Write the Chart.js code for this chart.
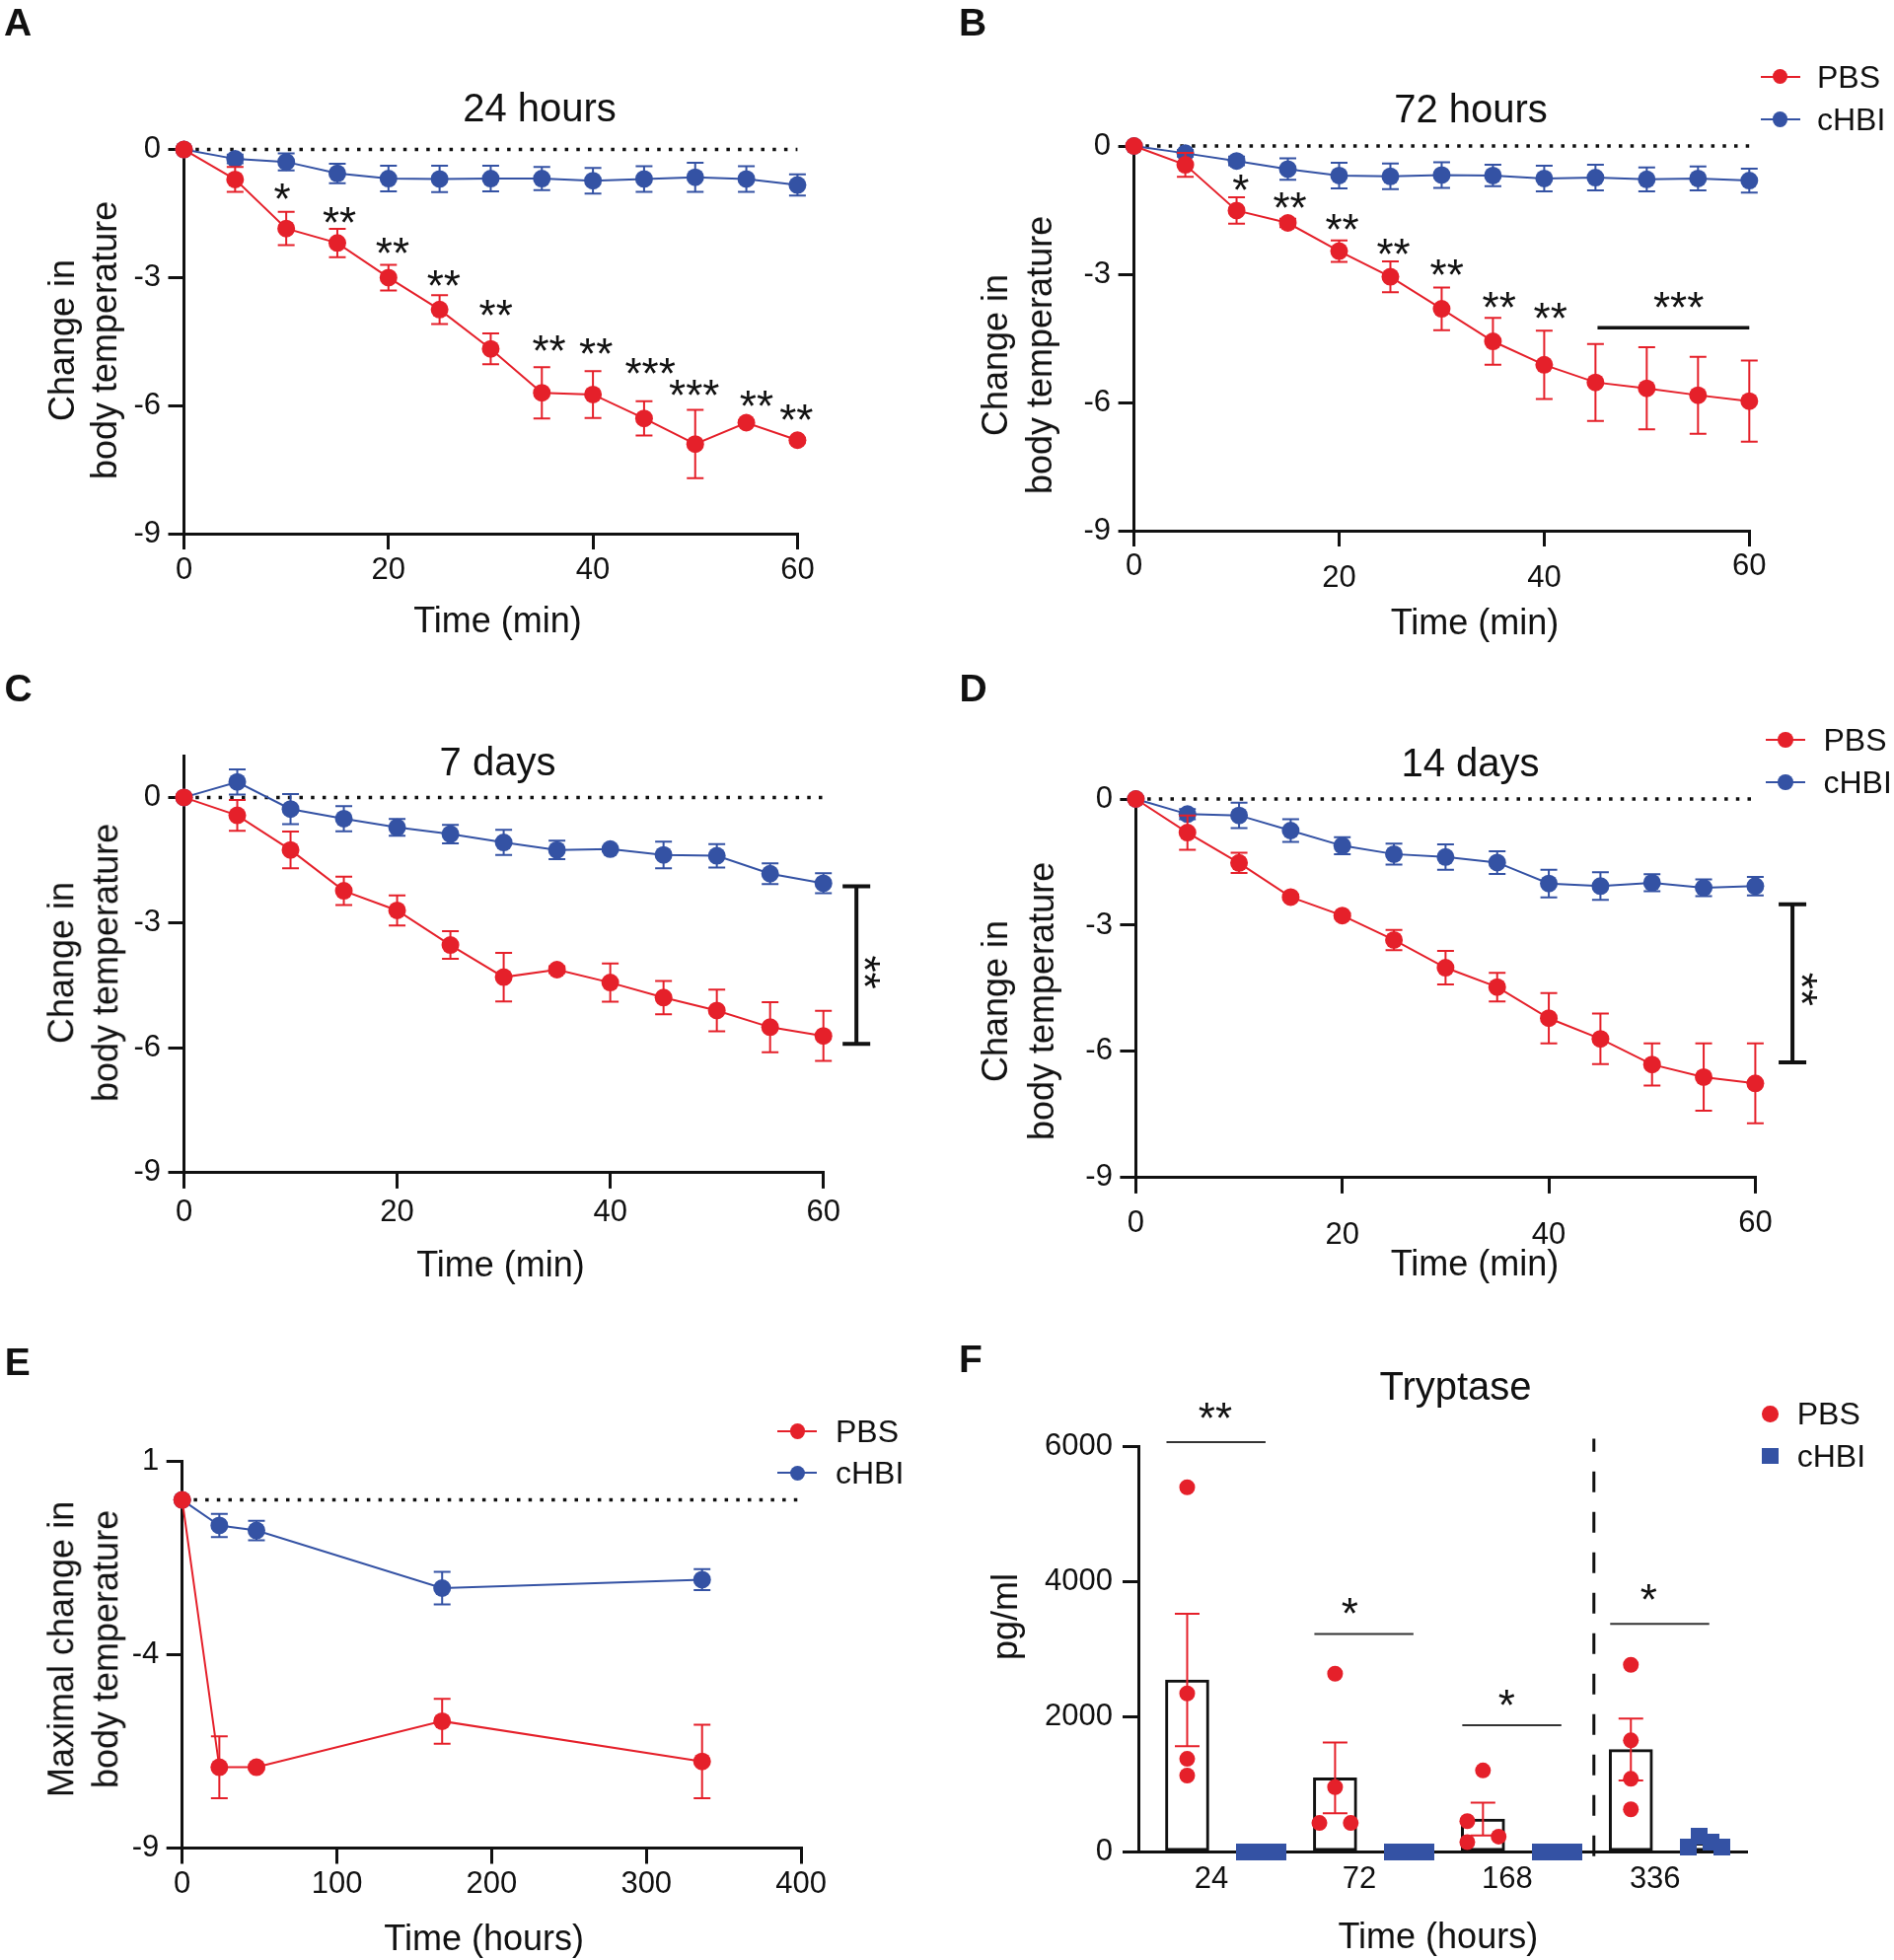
<!DOCTYPE html>
<html>
<head>
<meta charset="utf-8">
<script src="https://cdn.jsdelivr.net/npm/chart.js@4.4.1/dist/chart.umd.min.js"></script>
<style>
html,body{margin:0;padding:0;background:#fff}
#page{position:relative;width:1920px;height:1987px;overflow:hidden;font-family:'Liberation Sans',Arial,Helvetica,sans-serif;color:#111;background:#fff}
canvas{position:absolute}
.t{position:absolute;white-space:pre;line-height:1;text-align:center}
.mk{position:absolute}
</style>
</head>
<body>
<div id="page">
<canvas id="cA" width="960" height="660" style="left:0;top:0"></canvas>
<canvas id="cB" width="960" height="660" style="left:960px;top:0"></canvas>
<canvas id="cC" width="960" height="660" style="left:0;top:660px"></canvas>
<canvas id="cD" width="960" height="660" style="left:960px;top:660px"></canvas>
<canvas id="cE" width="960" height="667" style="left:0;top:1320px"></canvas>
<canvas id="cF" width="960" height="667" style="left:960px;top:1320px"></canvas>
</div>
<script>
// ---------------- DATA ----------------
const minutes = [0, 5, 10, 15, 20, 25, 30, 35, 40, 45, 50, 55, 60];
const minuteTicks = [0, 20, 40, 60];
const tempTicks = [-9, -6, -3, 0];

// A: 24 hours
const aPBS     = [0, -0.70, -1.85, -2.19, -3.00, -3.75, -4.67, -5.70, -5.74, -6.30, -6.90, -6.40, -6.81];
const aPBSerr  = [0, 0.29, 0.39, 0.33, 0.30, 0.34, 0.36, 0.60, 0.55, 0.40, 0.80, 0.05, 0.05];
const aCHBI    = [0, -0.22, -0.29, -0.56, -0.68, -0.69, -0.68, -0.68, -0.73, -0.69, -0.65, -0.69, -0.83];
const aCHBIerr = [0, 0.10, 0.20, 0.23, 0.30, 0.31, 0.30, 0.27, 0.30, 0.30, 0.34, 0.30, 0.25];
const aStars = [['*', 9.6, -0.99], ['**', 15.2, -1.54], ['**', 20.4, -2.24], ['**', 25.4, -3.02], ['**', 30.5, -3.70],
  ['**', 35.7, -4.55], ['**', 40.3, -4.60], ['***', 45.6, -5.06], ['***', 49.9, -5.59], ['**', 56.0, -5.84], ['**', 59.9, -6.15]];

// B: 72 hours
const bPBS     = [0, -0.44, -1.51, -1.80, -2.46, -3.06, -3.81, -4.57, -5.12, -5.53, -5.67, -5.83, -5.97];
const bPBSerr  = [0, 0.28, 0.31, 0.10, 0.25, 0.36, 0.50, 0.55, 0.80, 0.90, 0.96, 0.90, 0.95];
const bCHBI    = [0, -0.17, -0.35, -0.54, -0.69, -0.71, -0.68, -0.69, -0.76, -0.74, -0.78, -0.76, -0.81];
const bCHBIerr = [0, 0.08, 0.10, 0.25, 0.30, 0.30, 0.30, 0.25, 0.30, 0.30, 0.28, 0.28, 0.28];
const bStars = [['*', 10.4, -0.85], ['**', 15.2, -1.26], ['**', 20.3, -1.77], ['**', 25.3, -2.35], ['**', 30.5, -2.84],
  ['**', 35.6, -3.59], ['**', 40.6, -3.86], ['***', 53.1, -3.59]];
const bSigLine = [45.2, 60, -4.25];

// C: 7 days
const cPBS     = [0, -0.43, -1.26, -2.24, -2.71, -3.54, -4.31, -4.13, -4.44, -4.80, -5.11, -5.51, -5.72];
const cPBSerr  = [0, 0.37, 0.44, 0.34, 0.36, 0.33, 0.58, 0.08, 0.46, 0.40, 0.50, 0.60, 0.60];
const cCHBI    = [0, 0.37, -0.28, -0.51, -0.72, -0.88, -1.08, -1.26, -1.24, -1.38, -1.40, -1.83, -2.06];
const cCHBIerr = [0, 0.30, 0.36, 0.30, 0.20, 0.22, 0.30, 0.22, 0.05, 0.32, 0.28, 0.25, 0.24];
const cBracket = [63.1, -2.13, -5.91, '**', 64.6, -4.19];

// D: 14 days
const dPBS     = [0, -0.80, -1.52, -2.33, -2.77, -3.35, -4.01, -4.47, -5.21, -5.70, -6.31, -6.61, -6.76];
const dPBSerr  = [0, 0.41, 0.24, 0.05, 0.05, 0.24, 0.40, 0.34, 0.60, 0.60, 0.50, 0.80, 0.95];
const dCHBI    = [0, -0.36, -0.39, -0.75, -1.11, -1.31, -1.38, -1.51, -2.01, -2.07, -1.99, -2.11, -2.07];
const dCHBIerr = [0, 0.12, 0.30, 0.27, 0.20, 0.25, 0.30, 0.27, 0.33, 0.33, 0.20, 0.20, 0.22];
const dBracket = [63.6, -2.50, -6.26, '**', 65.2, -4.52];

// E: maximal change
const eHours    = [0, 24, 48, 168, 336];
const ePBS      = [0, -6.91, -6.91, -5.72, -6.76];
const ePBSerr   = [0, 0.80, 0.05, 0.58, 0.95];
const eCHBI     = [0, -0.66, -0.79, -2.28, -2.06];
const eCHBIerr  = [0, 0.30, 0.25, 0.42, 0.27];
const eHourTicks = [0, 100, 200, 300, 400];
const eTempTicks = [-9, -4, 1];

// F: tryptase
const fHours      = ['24', '72', '168', '336'];
const fPBSpoints  = [[5401, 2350, 1382, 1134], [2642, 963, 433, 433], [1210, 459, 230, 149], [2773, 1655, 1086, 634]];
const fPBSjitter  = [[0, 0, 0, 0], [0, 0, -0.106, 0.106], [0, -0.106, 0.106, -0.106], [0, 0, 0, 0]];
const fPBSmean    = [2550, 1100, 490, 1520];
const fPBSsem     = [980, 523, 242, 457];
const fCHBIpoints = [[0, 0, 0, 0], [0, 0, 0, 0], [0, 0, 0, 0], [79, 239, 142, 79]];
const fCHBIjitter = [-0.113, -0.04, 0.04, 0.113];
const fCHBImean   = [0, 0, 0, 135];
const fSigY       = [6068, 3231, 1879, 3380];
const fSigStars   = ['**', '*', '*', '*'];
const fStarX      = [-0.06, -0.15, -0.09, -0.13];
const fStarY      = [6542, 3645, 2282, 3844];
const fTicks      = [0, 2000, 4000, 6000];

// ---------------- STYLE ----------------
const RED = '#E5202A', BLUE = '#3452A4', INK = '#111';
const FONT = "'Liberation Sans', Arial, Helvetica, sans-serif";
Chart.defaults.font.family = FONT;
Chart.defaults.color = INK;
const page = document.getElementById('page');

// square marker image for cHBI points in panel F
const squareImg = document.createElement('canvas');
squareImg.width = 17; squareImg.height = 17;
(function () { const c = squareImg.getContext('2d'); c.fillStyle = BLUE; c.fillRect(0, 0, 17, 17); })();

// ---------------- PLUGINS ----------------
function drawErr(chart, args) {
  const ds = chart.data.datasets[args.index];
  if (!ds.errors) return;
  const ys = chart.scales.y, ctx = chart.ctx, c = ds.capHalf || 8.5;
  ctx.save();
  ctx.strokeStyle = ds.errColor || ds.borderColor;
  ctx.lineWidth = ds.errWidth || 2;
  args.meta.data.forEach((el, i) => {
    const e = ds.errors[i];
    if (!e) return;
    const v = ds.data[i].y;
    const x = el.x, y1 = ys.getPixelForValue(v + e), y2 = ys.getPixelForValue(v - e);
    ctx.beginPath();
    ctx.moveTo(x, y1); ctx.lineTo(x, y2);
    ctx.moveTo(x - c, y1); ctx.lineTo(x + c, y1);
    ctx.moveTo(x - c, y2); ctx.lineTo(x + c, y2);
    ctx.stroke();
  });
  ctx.restore();
}
const errorBars = {
  id: 'errorBars',
  beforeDatasetDraw(chart, args) { if (!chart.data.datasets[args.index].errAfter) drawErr(chart, args); },
  afterDatasetDraw(chart, args) { if (chart.data.datasets[args.index].errAfter) drawErr(chart, args); }
};

function marksPlugin(spec) {
  return {
    id: 'marks',
    afterDatasetsDraw(chart) {
      const ctx = chart.ctx, xs = chart.scales.x, ys = chart.scales.y;
      const px = v => xs.getPixelForValue(v), py = v => ys.getPixelForValue(v);
      ctx.save();
      (spec.lines || []).forEach(l => {
        ctx.beginPath();
        ctx.lineWidth = l.w; ctx.strokeStyle = l.color || INK;
        ctx.setLineDash(l.dash || []);
        ctx.moveTo(px(l.x1), py(l.y1)); ctx.lineTo(px(l.x2), py(l.y2));
        ctx.stroke();
      });
      ctx.setLineDash([]);
      (spec.brackets || []).forEach(b => {
        const x = px(b.x), y1 = py(b.y1), y2 = py(b.y2);
        ctx.beginPath(); ctx.lineWidth = b.w; ctx.strokeStyle = INK;
        ctx.moveTo(x, y1); ctx.lineTo(x, y2);
        ctx.moveTo(x - b.cap, y1); ctx.lineTo(x + b.cap, y1);
        ctx.moveTo(x - b.cap, y2); ctx.lineTo(x + b.cap, y2);
        ctx.stroke();
      });
      (spec.stars || []).forEach(s => {
        const size = s.size || 44;
        ctx.save();
        ctx.font = size + 'px ' + FONT;
        ctx.fillStyle = INK;
        ctx.textAlign = 'center';
        ctx.textBaseline = 'alphabetic';
        const m = ctx.measureText(s.t);
        const off = (m.actualBoundingBoxAscent - m.actualBoundingBoxDescent) / 2;
        ctx.translate(px(s.x), py(s.y));
        if (s.rot) ctx.rotate(s.rot * Math.PI / 180);
        ctx.fillText(s.t, 0, off);
        ctx.restore();
      });
      ctx.restore();
    }
  };
}

// ---------------- SCALES ----------------
function axisCommon(tickLen) {
  return {
    grid: { display: tickLen > 0, drawOnChartArea: false, drawTicks: true, tickLength: tickLen, color: INK, lineWidth: 3, tickColor: INK, tickWidth: 3, offset: false },
    border: { display: true, color: INK, width: 3 }
  };
}
function xScale(o, H) {
  return Object.assign(axisCommon(o.xTickLen === undefined ? 16 : o.xTickLen), {
    type: 'linear', min: o.xMin, max: o.xMax, offset: false,
    afterFit: s => { s.height = H - o.area.b; },
    afterBuildTicks: s => { s.ticks = o.xTicks.map(v => ({ value: v })); },
    ticks: {
      font: { size: 31, lineHeight: o.xLH || 1.2 }, color: INK, padding: o.xPad, maxRotation: 0, minRotation: 0,
      autoSkip: false, labelOffset: o.xLabelOffset || 0,
      callback: o.xLabel || (v => (o.stagger && o.stagger.includes(v)) ? ['', String(v)] : String(v))
    }
  });
}
function yScale(o) {
  return Object.assign(axisCommon(16), {
    type: 'linear', min: o.yMin, max: o.yMax,
    afterFit: s => { s.width = o.area.l; },
    afterBuildTicks: s => { s.ticks = o.yTicks.map(v => ({ value: v })); },
    ticks: { font: { size: 31 }, color: INK, padding: o.yPad || 7.5, autoSkip: false, callback: v => String(v) }
  });
}
function baseOptions(o, W, H) {
  return {
    responsive: false, animation: false, events: [],
    layout: { padding: { left: 0, top: o.area.t, right: W - o.area.r, bottom: 0 } },
    plugins: { legend: { display: false }, tooltip: { enabled: false }, title: { display: false } },
    scales: { x: xScale(o, H), y: yScale(o) }
  };
}

function linePanel(id, o) {
  const cv = document.getElementById(id);
  const W = cv.width, H = cv.height;
  const series = (ys, errs, color, order) => ({
    data: o.x.map((x, i) => ({ x, y: ys[i] })),
    errors: errs, capHalf: 8.5,
    borderColor: color, backgroundColor: color, borderWidth: 2,
    pointRadius: 9, pointBackgroundColor: color, pointBorderColor: color, pointBorderWidth: 0,
    tension: 0, order, clip: false
  });
  new Chart(cv, {
    type: 'line',
    data: {
      datasets: [
        series(o.pbs, o.pbsErr, RED, 0),
        series(o.chbi, o.chbiErr, BLUE, 1),
        { data: o.zero.map(x => ({ x, y: 0 })), borderColor: INK, borderWidth: 3.5, borderDash: [3.5, 8.2],
          pointRadius: 0, order: 2, clip: false }
      ]
    },
    options: baseOptions(o, W, H),
    plugins: [errorBars, marksPlugin(o.marks || {})]
  });
}

const starSpec = arr => arr.map(s => ({ t: s[0], x: s[1], y: s[2] }));
const bracketSpec = b => ({ brackets: [{ x: b[0], y1: b[1], y2: b[2], cap: 14, w: 4 }], stars: [{ t: b[3], x: b[4], y: b[5], rot: 90 }] });

linePanel('cA', {
  area: { l: 186.5, r: 808.4, t: 151.6, b: 541 },
  x: minutes, pbs: aPBS, pbsErr: aPBSerr, chbi: aCHBI, chbiErr: aCHBIerr,
  xMin: 0, xMax: 60, xTicks: minuteTicks, yMin: -9, yMax: 0, yTicks: tempTicks,
  zero: [0, 60], xPad: 2.4,
  marks: { stars: starSpec(aStars) }
});
linePanel('cB', {
  area: { l: 189.6, r: 813.3, t: 148, b: 538 },
  x: minutes, pbs: bPBS, pbsErr: bPBSerr, chbi: bCHBI, chbiErr: bCHBIerr,
  xMin: 0, xMax: 60, xTicks: minuteTicks, yMin: -9, yMax: 0, yTicks: tempTicks,
  zero: [0, 60], xPad: 13.8, xLH: 0.4, stagger: [20, 40],
  marks: { stars: starSpec(bStars), lines: [{ x1: bSigLine[0], x2: bSigLine[1], y1: bSigLine[2], y2: bSigLine[2], w: 3.5 }] }
});
linePanel('cC', {
  area: { l: 186.5, r: 834.7, t: 106.1, b: 528.9 },
  x: minutes, pbs: cPBS, pbsErr: cPBSerr, chbi: cCHBI, chbiErr: cCHBIerr,
  xMin: 0, xMax: 60, xTicks: minuteTicks, yMin: -9, yMax: 1, yTicks: tempTicks,
  zero: [0, 60], xPad: 6.1,
  marks: bracketSpec(cBracket)
});
linePanel('cD', {
  area: { l: 191.4, r: 819.4, t: 150, b: 533.9 },
  x: minutes, pbs: dPBS, pbsErr: dPBSerr, chbi: dCHBI, chbiErr: dCHBIerr,
  xMin: 0, xMax: 60, xTicks: minuteTicks, yMin: -9, yMax: 0, yTicks: tempTicks,
  zero: [0, 60], xPad: 23.9, xLH: 0.4, stagger: [20, 40],
  marks: bracketSpec(dBracket)
});
linePanel('cE', {
  area: { l: 184.7, r: 812.1, t: 161.4, b: 553.5 },
  x: eHours, pbs: ePBS, pbsErr: ePBSerr, chbi: eCHBI, chbiErr: eCHBIerr,
  xMin: 0, xMax: 400, xTicks: eHourTicks, yMin: -9, yMax: 1, yTicks: eTempTicks,
  zero: [0, 400], xPad: 2.4
});

// ---------------- PANEL F ----------------
(function () {
  const cv = document.getElementById('cF');
  const W = cv.width, H = cv.height;
  const o = {
    area: { l: 194, r: 810.2, t: 146.7, b: 557.7 },
    xMin: -0.58, xMax: 3.53, xTicks: [0, 1, 2, 3], yMin: 0, yMax: 6000, yTicks: fTicks,
    xTickLen: 0, xPad: 9.1, xLabelOffset: -13, yPad: 10,
    xLabel: v => fHours[v]
  };
  const pbsPts = [], chbiPts = [];
  fPBSpoints.forEach((g, i) => g.forEach((v, j) => pbsPts.push({ x: i - 0.25 + fPBSjitter[i][j], y: v })));
  fCHBIpoints.forEach((g, i) => g.forEach((v, j) => chbiPts.push({ x: i + 0.25 + fCHBIjitter[j], y: v })));
  const lines = [], stars = [];
  fSigY.forEach((y, i) => {
    lines.push({ x1: i - 0.39, x2: i + 0.28, y1: y, y2: y, w: 2, color: '#333' });
    stars.push({ t: fSigStars[i], x: i + fStarX[i], y: fStarY[i] });
  });
  lines.push({ x1: 2.5, x2: 2.5, y1: -60, y2: 6120, w: 3, dash: [21, 20] });
  const opts = baseOptions(o, W, H);
  new Chart(cv, {
    type: 'bar',
    data: {
      datasets: [
        { type: 'scatter', data: pbsPts, pointRadius: 8, pointBackgroundColor: RED, pointBorderColor: RED,
          pointBorderWidth: 0, backgroundColor: RED, borderColor: RED, order: 0, clip: false },
        { type: 'scatter', data: chbiPts, pointStyle: squareImg, pointRadius: 9, pointBackgroundColor: BLUE,
          pointBorderColor: BLUE, pointBorderWidth: 0, backgroundColor: BLUE, borderColor: BLUE, order: 0, clip: false },
        { type: 'bar', data: fPBSmean.map((m, i) => ({ x: i - 0.25, y: m })), errors: fPBSsem, errAfter: true,
          errColor: RED, capHalf: 12.5, backgroundColor: '#fff', borderColor: INK, borderWidth: 3,
          borderSkipped: false, barThickness: 44, grouped: false, order: 1, clip: false },
        { type: 'bar', data: fCHBImean.map((m, i) => ({ x: i + 0.25, y: m })), backgroundColor: '#fff',
          borderColor: INK, borderWidth: 3, borderSkipped: false, barThickness: 44, grouped: false, order: 2, clip: false }
      ]
    },
    options: opts,
    plugins: [errorBars, marksPlugin({ lines, stars })]
  });
})();

// ---------------- HTML TEXT ----------------
function addText(str, cx, cy, size, o = {}) {
  const d = document.createElement('div');
  d.className = 't';
  d.textContent = str;
  d.style.left = cx + 'px';
  d.style.top = cy + 'px';
  d.style.fontSize = size + 'px';
  if (o.bold) d.style.fontWeight = 'bold';
  if (o.lh) d.style.lineHeight = o.lh + 'px';
  let tr = o.left ? 'translate(0,-50%)' : 'translate(-50%,-50%)';
  if (o.rot) tr += ' rotate(' + o.rot + 'deg)';
  d.style.transform = tr;
  page.appendChild(d);
}
[['A', 18, 22], ['B', 986, 21.5], ['C', 18.5, 696.5], ['D', 986.5, 696.5], ['E', 17.8, 1379.5], ['F', 984, 1377]]
  .forEach(l => addText(l[0], l[1], l[2], 39, { bold: true }));
[['24 hours', 547, 109], ['72 hours', 1491, 110], ['7 days', 504.5, 772], ['14 days', 1490.5, 772.5], ['Tryptase', 1475.5, 1405]]
  .forEach(l => addText(l[0], l[1], l[2], 40));
[['Time (min)', 504.5, 628.5], ['Time (min)', 1495, 630.5], ['Time (min)', 507.5, 1282], ['Time (min)', 1495, 1281],
 ['Time (hours)', 490.7, 1964.5], ['Time (hours)', 1457.8, 1962.5]]
  .forEach(l => addText(l[0], l[1], l[2], 36));
[['Change in\nbody temperature', 83.5, 345, 43], ['Change in\nbody temperature', 1031, 359.5, 45],
 ['Change in\nbody temperature', 85.3, 976, 44.7], ['Change in\nbody temperature', 1032, 1015, 47],
 ['Maximal change in\nbody temperature', 85.3, 1672, 44.7], ['pg/ml', 1018.8, 1639, 36]]
  .forEach(l => addText(l[0], l[1], l[2], 36, { lh: l[3], rot: -90 }));

// legends
function marker(kind, x, y, color) {
  if (kind === 'line') {
    const ln = document.createElement('div');
    ln.className = 'mk';
    Object.assign(ln.style, { left: (x - 20) + 'px', top: (y - 1) + 'px', width: '40px', height: '2px', background: color });
    page.appendChild(ln);
  }
  const d = document.createElement('div');
  d.className = 'mk';
  if (kind === 'square') {
    Object.assign(d.style, { left: (x - 8.3) + 'px', top: (y - 8.3) + 'px', width: '16.6px', height: '16.6px', background: color });
  } else {
    const r = kind === 'line' ? 7.8 : 8.3;
    Object.assign(d.style, { left: (x - r) + 'px', top: (y - r) + 'px', width: 2 * r + 'px', height: 2 * r + 'px', borderRadius: '50%', background: color });
  }
  page.appendChild(d);
}
function legend(mx, tx, rows, kinds) {
  rows.forEach((r, i) => {
    marker(kinds[i], mx, r[0], r[1]);
    addText(r[2], tx, r[0], 32, { left: true });
  });
}
legend(1804.5, 1842, [[77.5, RED, 'PBS'], [121, BLUE, 'cHBI']], ['line', 'line']);
legend(1810, 1848.5, [[750, RED, 'PBS'], [793, BLUE, 'cHBI']], ['line', 'line']);
legend(808.4, 847, [[1450.8, RED, 'PBS'], [1493.3, BLUE, 'cHBI']], ['line', 'line']);
legend(1794.3, 1821.7, [[1433.3, RED, 'PBS'], [1476, BLUE, 'cHBI']], ['dot', 'square']);
</script>
</body>
</html>
